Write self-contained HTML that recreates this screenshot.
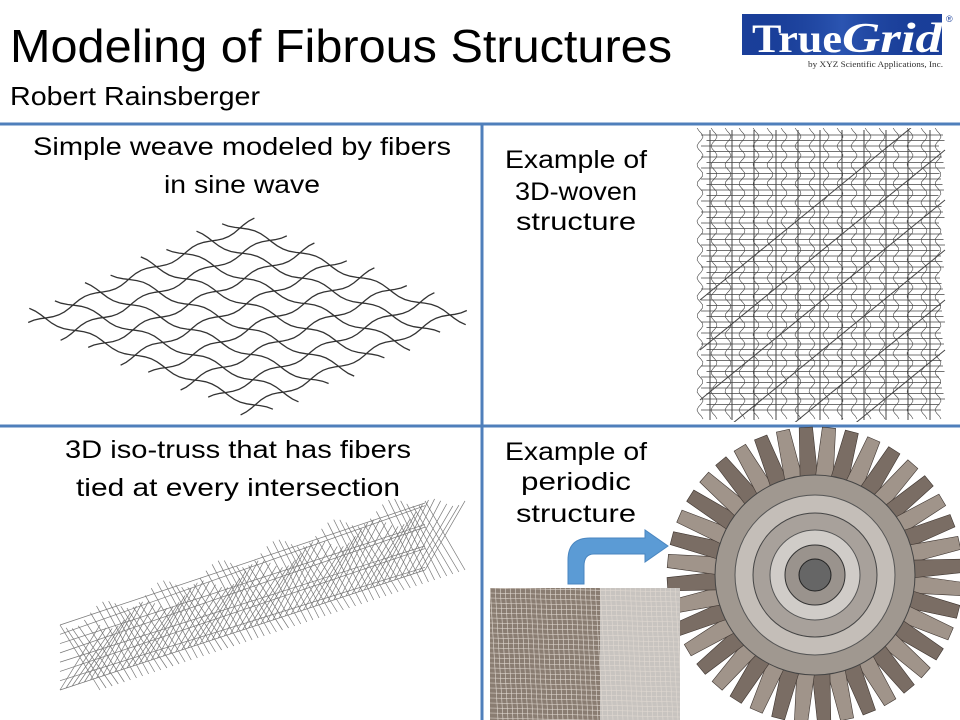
<!DOCTYPE html>
<html><head><meta charset="utf-8">
<style>
html,body{margin:0;padding:0;background:#fff;}
svg{display:block;}
text{font-family:"Liberation Sans",sans-serif;fill:#000;}
</style></head>
<body>
<svg id="s" width="960" height="720" viewBox="0 0 960 720" xmlns="http://www.w3.org/2000/svg">
<defs>
<linearGradient id="lg" x1="0" x2="1"><stop offset="0" stop-color="#0a2a80" stop-opacity="0"/><stop offset="0.5" stop-color="#3c6ac8" stop-opacity="0.5"/><stop offset="1" stop-color="#0a2a80" stop-opacity="0"/></linearGradient>
<clipPath id="wc"><rect x="692" y="128" width="258" height="294"/></clipPath>
<clipPath id="ic"><rect x="490" y="588" width="190" height="132"/></clipPath>
</defs>
<rect width="960" height="720" fill="#fff"/>
<text x="10" y="62" font-size="46" textLength="662" lengthAdjust="spacingAndGlyphs">Modeling of Fibrous Structures</text>
<text x="10" y="105" font-size="26" textLength="250" lengthAdjust="spacingAndGlyphs">Robert Rainsberger</text>
<rect x="742" y="14" width="200" height="41" fill="#1a3f9a"/>
<rect x="742" y="14" width="200" height="41" fill="url(#lg)"/>
<text x="752" y="52" font-size="40" font-weight="bold" style="font-family:'Liberation Serif',serif;fill:#fff" textLength="90" lengthAdjust="spacingAndGlyphs">True</text>
<text x="842" y="52" font-size="42" font-weight="bold" style="font-family:'Liberation Serif',serif;fill:#fff;font-style:italic" textLength="100" lengthAdjust="spacingAndGlyphs">Grid</text>
<text x="946" y="22" font-size="9" style="fill:#1a3f9a">®</text>
<text x="808" y="67" font-size="8.5" style="font-family:'Liberation Serif',serif;fill:#333" textLength="135" lengthAdjust="spacingAndGlyphs">by XYZ Scientific Applications, Inc.</text>
<line x1="0" y1="124" x2="960" y2="124" stroke="#4f7fbb" stroke-width="3"/>
<line x1="0" y1="426" x2="960" y2="426" stroke="#4f7fbb" stroke-width="3"/>
<line x1="482" y1="123" x2="482" y2="720" stroke="#4f7fbb" stroke-width="3"/>
<text x="242" y="155" font-size="25" text-anchor="middle" textLength="418" lengthAdjust="spacingAndGlyphs">Simple weave modeled by fibers</text>
<text x="242" y="193" font-size="25" text-anchor="middle" textLength="156" lengthAdjust="spacingAndGlyphs">in sine wave</text>
<text x="576" y="168" font-size="25" text-anchor="middle" textLength="142" lengthAdjust="spacingAndGlyphs">Example of</text>
<text x="576" y="200" font-size="25" text-anchor="middle" textLength="122" lengthAdjust="spacingAndGlyphs">3D-woven</text>
<text x="576" y="230" font-size="25" text-anchor="middle" textLength="120" lengthAdjust="spacingAndGlyphs">structure</text>
<text x="238" y="458" font-size="25" text-anchor="middle" textLength="346" lengthAdjust="spacingAndGlyphs">3D iso-truss that has fibers</text>
<text x="238" y="496" font-size="25" text-anchor="middle" textLength="324" lengthAdjust="spacingAndGlyphs">tied at every intersection</text>
<text x="576" y="460" font-size="25" text-anchor="middle" textLength="142" lengthAdjust="spacingAndGlyphs">Example of</text>
<text x="576" y="490" font-size="25" text-anchor="middle" textLength="110" lengthAdjust="spacingAndGlyphs">periodic</text>
<text x="576" y="522" font-size="25" text-anchor="middle" textLength="120" lengthAdjust="spacingAndGlyphs">structure</text>
<g id="mesh" stroke="#333" stroke-width="1.3" fill="none"></g>
<g id="woven" stroke="#444" stroke-width="0.8" fill="none" clip-path="url(#wc)"></g>
<g id="truss" stroke="#777" stroke-width="0.7" fill="none"></g>
<g id="turb"></g>
<g clip-path="url(#ic)">
<rect x="490" y="588" width="110" height="132" fill="#8a7d72"/>
<rect x="600" y="588" width="80" height="132" fill="#c8c4c0"/>
<g id="inset" stroke="#e0d8d0" stroke-width="0.6"></g>
</g>
<path d="M568,584 L568,560 Q568,538 590,538 L645,538 L645,530 L668,546 L645,562 L645,554 L594,554 Q584,554 584,566 L584,584 Z" fill="#5b9bd5" stroke="#4a86c0"/>
</svg>
<script>
var NS="http://www.w3.org/2000/svg";
function P(g,d,extra){var p=document.createElementNS(NS,"path");p.setAttribute("d",d);if(extra)for(var k in extra)p.setAttribute(k,extra[k]);document.getElementById(g).appendChild(p);}
(function(){var L=[45,318],T=[240,228],B=[255,405];var a=[T[0]-L[0],T[1]-L[1]],b=[B[0]-L[0],B[1]-L[1]];
var n=8;
for(var f=0;f<2;f++)for(var i=0;i<n;i++){var t=i/(n-1);var d="";
for(var k=0;k<=40;k++){var s=-0.08+k/40*1.16;var u=f?t:s,v=f?s:t;
var x=L[0]+a[0]*u+b[0]*v,y=L[1]+a[1]*u+b[1]*v;var w=3*Math.sin(s*Math.PI*2*3.5+i*Math.PI);
var nx=f?-b[1]:-a[1],ny=f?b[0]:a[0];var nl=Math.hypot(nx,ny);x+=w*nx/nl;y+=w*ny/nl;
d+=(k?"L":"M")+x.toFixed(1)+","+y.toFixed(1);}P("mesh",d);}})();
(function(){for(var y=135;y<415;y+=5.5){P("woven","M"+(698+(y%11))+","+y+"L"+(945-(y%7))+","+y);}
for(var x=700;x<945;x+=14){var d="";for(var y=128;y<=420;y+=3){d+=(y==128?"M":"L")+(x+3*Math.sin(y/3)).toFixed(1)+","+y;}P("woven",d,{"stroke-width":"0.6"});}
for(var i=0;i<6;i++){P("woven","M"+(700)+","+(300+i*50)+"L"+(945)+","+(100+i*50),{"stroke-width":"1"});}
for(var x=710;x<945;x+=22)P("woven","M"+x+",130L"+x+",420",{"stroke-width":"1"});})();
(function(){for(var i=0;i<=60;i++){var t=i/60;var x=60+365*t;var yb=690-120*t,yt=625-130*t+8*Math.sin(t*40);
P("truss","M"+x+","+yb+"L"+(x+40)+","+(yt));P("truss","M"+(x+40)+","+yb+"L"+(x)+","+(yt));}
for(var j=0;j<8;j++){var o=j/7;P("truss","M60,"+(690-65*o)+"L425,"+(570-75*o+(j%2?8:0)));}})();
(function(){var g=document.getElementById("turb");var cx=815,cy=575;
function C(r,f,s){var c=document.createElementNS(NS,"circle");c.setAttribute("cx",cx);c.setAttribute("cy",cy);c.setAttribute("r",r);c.setAttribute("fill",f);if(s){c.setAttribute("stroke",s);}g.appendChild(c);}
for(var i=0;i<40;i++){var a=i/40*Math.PI*2,a2=a+0.09;var r1=95,r2=148;
var d="M"+(cx+r1*Math.cos(a))+","+(cy+r1*Math.sin(a))+"L"+(cx+r2*Math.cos(a+0.05))+","+(cy+r2*Math.sin(a+0.05))+"L"+(cx+r2*Math.cos(a2+0.05))+","+(cy+r2*Math.sin(a2+0.05))+"L"+(cx+r1*Math.cos(a2+0.1))+","+(cy+r1*Math.sin(a2+0.1))+"Z";
P("turb",d,{fill:i%2?"#7a6d64":"#a0948a",stroke:"#3e3530","stroke-width":"0.6"});}
C(100,"#a09890","#444");C(80,"#c4beb8","#555");C(62,"#a8a19b","#444");C(45,"#d0ccc8","#555");C(30,"#9a938d","#333");C(16,"#666","#222");})();
(function(){for(var x=490;x<680;x+=5)P("inset","M"+x+",585L"+(x+8)+",720");for(var y=588;y<720;y+=5)P("inset","M490,"+y+"L680,"+(y+4));})();
</script>
</body></html>
